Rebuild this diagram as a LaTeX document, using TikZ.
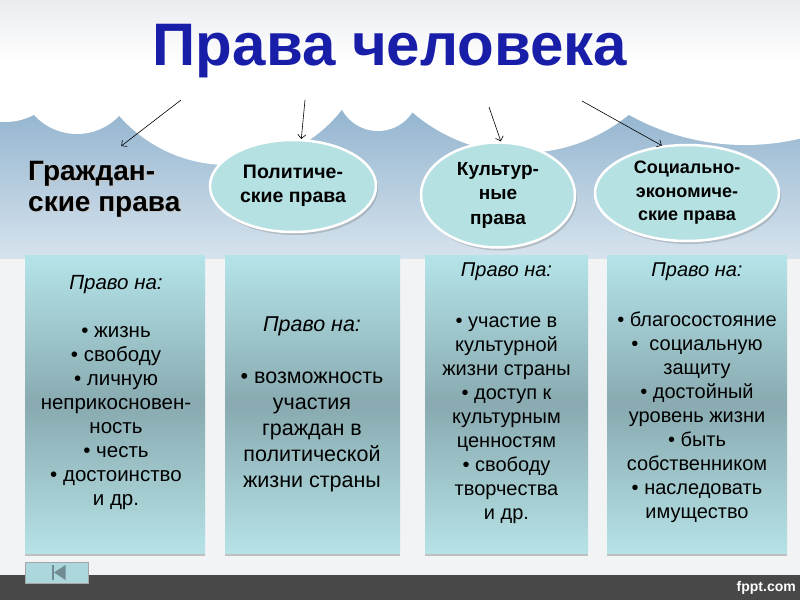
\documentclass[tikz,border=0pt]{standalone}
\usepackage{fontspec}
\setmainfont{Liberation Sans}
\usetikzlibrary{shapes.geometric,arrows.meta,shadows,calc}
\definecolor{titleblue}{RGB}{24,30,168}
\definecolor{ellfill}{RGB}{182,225,227}
\definecolor{boxtop}{RGB}{180,228,233}
\definecolor{boxmid}{RGB}{136,170,176}
\definecolor{boxbot}{RGB}{182,226,230}
\definecolor{skytop}{RGB}{138,174,203}
\definecolor{skybot}{RGB}{214,227,237}
\definecolor{pagebg}{RGB}{242,243,244}
\definecolor{cloudedge}{RGB}{208,212,219}
\definecolor{topgray}{RGB}{234,236,240}
\definecolor{barcol}{RGB}{72,72,72}
\definecolor{btnfill}{RGB}{172,216,221}
\definecolor{btnmark}{RGB}{112,140,146}
\newcommand\mycloudshade[2]{\pgfdeclareradialshading{#1}{\pgfpoint{0bp}{0bp}}{color(0bp)=(white); color(#2bp)=(white); color(50bp)=(cloudedge); color(75bp)=(cloudedge)}}
\mycloudshade{cA}{41.5}
\mycloudshade{cB}{41.0}
\mycloudshade{cC}{46.6}
\mycloudshade{cD}{38.0}
\mycloudshade{cE}{47.0}
\mycloudshade{cF}{47.9}
\begin{document}
\begin{tikzpicture}[x=1pt, y=-1pt,
  arr/.style={draw=black, line width=0.6pt, -{Straight Barb[length=4pt,width=8pt]}},
  ellnode/.style={ellipse, fill=ellfill, draw=white, line width=2.5pt, inner sep=-14pt,
    font=\fontsize{18}{23.5}\selectfont\bfseries, align=center,
    drop shadow={shadow xshift=2pt, shadow yshift=-3pt, opacity=0.35}},
  boxnode/.style={rectangle, top color=boxtop, bottom color=boxbot, middle color=boxmid,
    inner sep=0pt, drop shadow={shadow xshift=0pt, shadow yshift=-2.5pt, opacity=0.45}},
  boxtext/.style={align=center, font=\fontsize{20}{24}\selectfont, inner sep=0pt},
  grazhstyle/.style={align=left, font=\fontsize{28}{31}\selectfont\bfseries, inner sep=0pt, anchor=north west}
]
\useasboundingbox (0,0) rectangle (800,600);
\clip (0,0) rectangle (800,600);
% background
\fill[pagebg] (0,0) rectangle (800,600);
\shade[top color=skytop, bottom color=skybot] (0,88) rectangle (800,258);
% clouds
\shade[shading=cA] (5,60) circle[radius=62pt];
\shade[shading=cB] (77,76) circle[radius=58pt];
\shade[shading=cD] (378,90) circle[radius=41pt];
\shade[shading=cF] (745,-93) circle[radius=238pt];
\shade[shading=cC] (228,20) circle[radius=145pt];
\shade[shading=cE] (522,-15) circle[radius=168pt];
\shade[top color=topgray, bottom color=white] (0,0) rectangle (800,62);
% title
\node[font=\fontsize{60}{72}\selectfont\bfseries, text=titleblue, anchor=base, inner sep=0pt] (title) at (390,65) {Права человека};
% category nodes
\node[grazhstyle, text=gray!45] (grazhsh) at (29.5,162.5) {Граждан-\\ские права};
\node[grazhstyle] (grazh) at (28,161) {Граждан-\\ские права};
\node[ellnode, minimum width=166pt, minimum height=92pt, font=\fontsize{19.5}{23.5}\selectfont\bfseries] (e1) at (293,186) {Политиче-\\ские права};
\node[ellnode, minimum width=154pt, minimum height=105pt, font=\fontsize{19}{24.5}\selectfont\bfseries] (e2) at (498,195) {Культур-\\ные\\права};
\node[ellnode, minimum width=184pt, minimum height=96pt] (e3) at (687,193) {Социально-\\экономиче-\\ские права};
% arrows
\coordinate (s1) at (181,100);
\coordinate (s2) at (305,100);
\coordinate (s3) at (489,107);
\coordinate (s4) at (582,101);
\draw[arr] (s1) -- ($(grazh.north)+(17,-15)$);
\draw[arr] (s2) -- (e1.80);
\draw[arr] (s3) -- (e2.87);
\draw[arr] (s4) -- (e3.118);
% boxes
\node[boxnode, minimum width=180pt, minimum height=298pt] (b1) at (115,404) {};
\node[boxnode, minimum width=175pt, minimum height=298pt] (b2) at (312.5,404) {};
\node[boxnode, minimum width=163pt, minimum height=298pt] (b3) at (506.5,404) {};
\node[boxnode, minimum width=180pt, minimum height=298pt] (b4) at (697,404) {};
\node[boxtext, font=\fontsize{20.5}{24}\selectfont] (t1) at (116,393) {\textit{Право на:}\\[24pt]• жизнь\\• свободу\\• личную\\неприкосновен-\\ность\\• честь\\• достоинство\\и др.};
\node[boxtext, font=\fontsize{21.5}{26}\selectfont] (t2) at (312,404) {\textit{Право на:}\\[26pt]• возможность\\участия\\граждан в\\политической\\жизни страны};
\node[boxtext] (t3) at (506.5,393.5) {\textit{Право на:}\\[27pt]• участие в\\культурной\\жизни страны\\• доступ к\\культурным\\ценностям\\• свободу\\творчества\\и др.};
\node[boxtext] (t4) at (697,393) {\textit{Право на:}\\[26pt]• благосостояние\\•\ \ социальную\\защиту\\• достойный\\уровень жизни\\• быть\\собственником\\• наследовать\\имущество};
% bottom bar
\fill[barcol] (0,575) rectangle (800,600);
\node[anchor=base east, text=white, font=\fontsize{14}{16}\selectfont\bfseries, inner sep=0pt] (fppt) at (796,591) {fppt.com};
\node[draw=gray!70, fill=btnfill, minimum width=63pt, minimum height=21pt, inner sep=0pt] (btn) at (56.5,572.5) {};
\fill[btnmark] (51.5,565) rectangle (54,580);
\fill[btnmark] (54,572.5) -- (65.5,565) -- (65.5,580) -- cycle;
\end{tikzpicture}
\end{document}
